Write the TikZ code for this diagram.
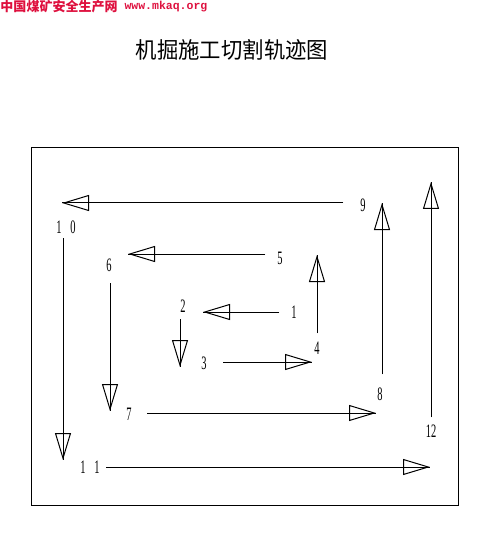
\documentclass[tikz,border=0pt]{standalone}
\usepackage{fontspec}
\usepackage{graphicx}
\setmainfont{Liberation Serif}
\newfontfamily\cjk{Noto Sans CJK SC}
\newfontfamily\webmono{Liberation Mono}
\usetikzlibrary{arrows.meta}
\definecolor{sitered}{RGB}{222,16,62}
\newcommand{\cutnum}[1]{\scalebox{0.55}[1]{#1}}

\begin{document}
\begin{tikzpicture}[x=1pt,y=-1pt,line width=1pt,
  every node/.style={inner sep=0pt},
  num/.style={font=\fontsize{19}{19}\selectfont},
  track/.style={postaction={draw,-{Triangle[open,length=27pt,width=16pt]}}}]
  \useasboundingbox (0,0) rectangle (485,534);

  % Header and title
  \node[anchor=west,text=sitered,font=\cjk\bfseries\fontsize{13}{13}\selectfont] (site) at (0,7) {中国煤矿安全生产网};
  \node[anchor=west,text=sitered,font=\webmono\bfseries\fontsize{11.5}{11.5}\selectfont] (url) at (124,7) {www.mkaq.org};
  \node[font=\cjk\fontsize{22.5}{22.5}\selectfont] (title) at (232,50) {\scalebox{0.95}[1]{机掘施工切割轨迹图}};

  % Frame
  \draw (31,148) rectangle (458,505);

  % Cut ends
  \coordinate (s1) at (279,312);  \coordinate (e1) at (203,312);
  \coordinate (s2) at (180,319);  \coordinate (e2) at (180,367);
  \coordinate (s3) at (223,362);  \coordinate (e3) at (312,362);
  \coordinate (s4) at (317,333);  \coordinate (e4) at (317,255);
  \coordinate (s5) at (265,254);  \coordinate (e5) at (128,254);
  \coordinate (s6) at (110,283);  \coordinate (e6) at (110,411);
  \coordinate (s7) at (147,413);  \coordinate (e7) at (376,413);
  \coordinate (s8) at (382,374);  \coordinate (e8) at (382,203);
  \coordinate (s9) at (343,203);  \coordinate (e9) at (62,203);
  \coordinate (s10) at (63,238);  \coordinate (e10) at (63,460);
  \coordinate (s11) at (106,467); \coordinate (e11) at (430,467);
  \coordinate (s12) at (431,417); \coordinate (e12) at (431,182);

  % Cuts
  \draw[track] (s1) -- (e1);
  \draw[track] (s2) -- (e2);
  \draw[track] (s3) -- (e3);
  \draw[track] (s4) -- (e4);
  \draw[track] (s5) -- (e5);
  \draw[track] (s6) -- (e6);
  \draw[track] (s7) -- (e7);
  \draw[track] (s8) -- (e8);
  \draw[track] (s9) -- (e9);
  \draw[track] (s10) -- (e10);
  \draw[track] (s11) -- (e11);
  \draw[track] (s12) -- (e12);

  % Step numbers
  \node[num] (n1) at (294,312) {\cutnum{1}};
  \node[num] (n2) at (183,306) {\cutnum{2}};
  \node[num] (n3) at (204,363) {\cutnum{3}};
  \node[num] (n4) at (317,348) {\cutnum{4}};
  \node[num] (n5) at (280,258) {\cutnum{5}};
  \node[num] (n6) at (109,265) {\cutnum{6}};
  \node[num] (n7) at (129,414) {\cutnum{7}};
  \node[num] (n8) at (380,394) {\cutnum{8}};
  \node[num] (n9) at (363,205) {\cutnum{9}};
  \node[num] (n10) at (66,227) {\cutnum{1\hspace{16pt}0}};
  \node[num] (n11) at (90,467) {\cutnum{1\hspace{16pt}1}};
  \node[num] (n12) at (431,431) {\cutnum{12}};
\end{tikzpicture}
\end{document}
